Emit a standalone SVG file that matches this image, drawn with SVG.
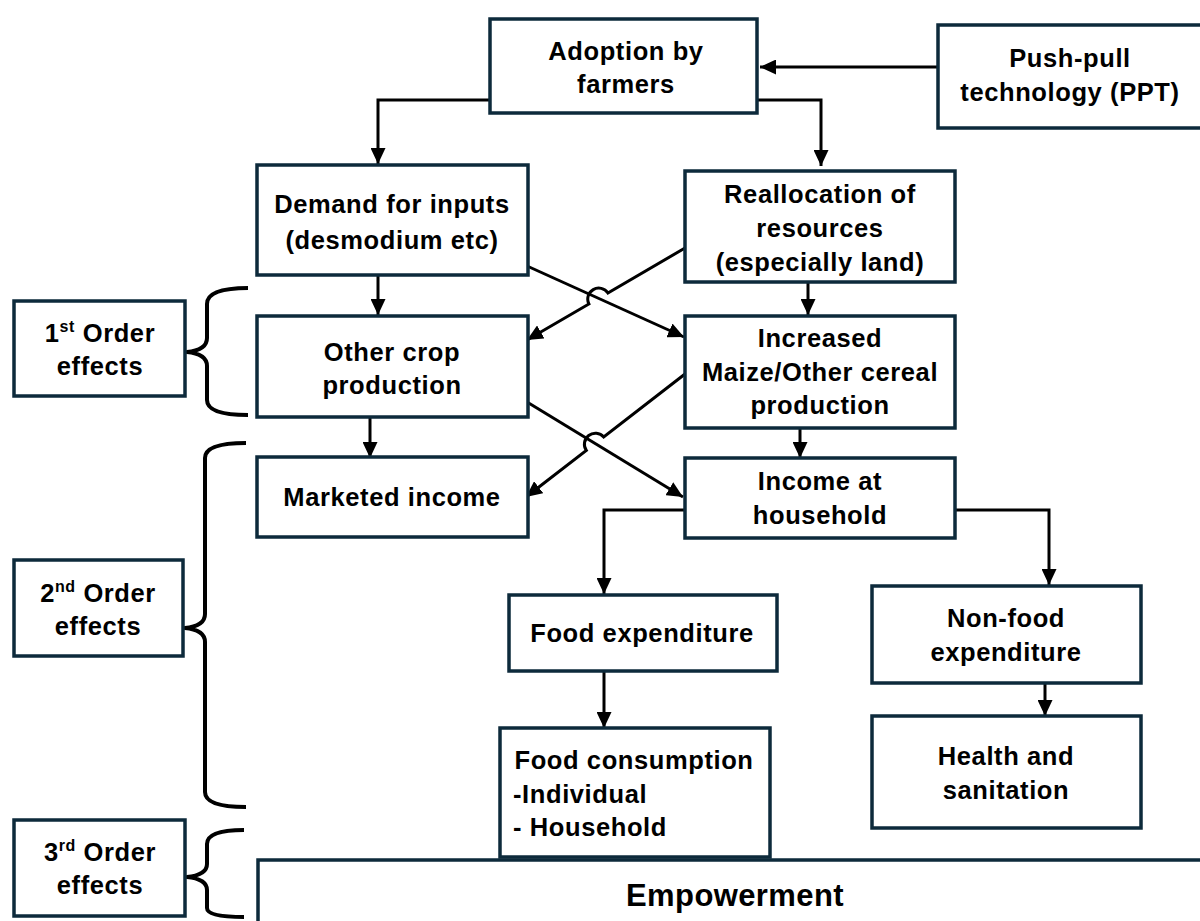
<svg xmlns="http://www.w3.org/2000/svg" width="1200" height="921" viewBox="0 0 1200 921">
<style>
.box{fill:#fff;stroke:#0d2a3b;stroke-width:3.5}
.t{font-family:"Liberation Sans",Arial,sans-serif;font-weight:bold;font-size:25.5px;letter-spacing:0.6px;fill:#000;text-anchor:middle}
.tl{text-anchor:start}
.big{font-size:31px;letter-spacing:0.4px}
.c{fill:none;stroke:#000;stroke-width:3}
.br{fill:none;stroke:#000;stroke-width:4;stroke-linejoin:round}
</style>
<defs>
<marker id="ah" markerUnits="userSpaceOnUse" markerWidth="17" markerHeight="15" refX="16" refY="7.5" orient="auto">
<path d="M0,0 L16,7.5 L0,15 Z" fill="#000"/>
</marker>
</defs>
<rect width="1200" height="921" fill="#fff"/>

<g id="connectors">
<path class="c" d="M938,67 L760,67" marker-end="url(#ah)"/>
<path class="c" d="M490,100 L378,100 L378,164" marker-end="url(#ah)"/>
<path class="c" d="M757,100 L821,100 L821,166" marker-end="url(#ah)"/>
<path class="c" d="M378,275 L378,315" marker-end="url(#ah)"/>
<path class="c" d="M808,282 L808,315" marker-end="url(#ah)"/>
<path class="c" d="M516,261 L684,337" marker-end="url(#ah)"/>
<path class="c" d="M685,248 L607.9,293 A11,11 0 0 0 588.9,304 L527,340" marker-end="url(#ah)"/>
<path class="c" d="M370,417 L370,458" marker-end="url(#ah)"/>
<path class="c" d="M800,428 L800,458" marker-end="url(#ah)"/>
<path class="c" d="M527,402 L683,497" marker-end="url(#ah)"/>
<path class="c" d="M685,374 L603.7,437 A11,11 0 0 0 586.3,450.4 L526,497" marker-end="url(#ah)"/>
<path class="c" d="M685,510 L604,510 L604,594" marker-end="url(#ah)"/>
<path class="c" d="M955,510 L1049,510 L1049,585" marker-end="url(#ah)"/>
<path class="c" d="M604,671 L604,728" marker-end="url(#ah)"/>
<path class="c" d="M1045,683 L1045,716" marker-end="url(#ah)"/>
</g>

<g id="braces">
<path class="br" d="M248,288 Q207,288 207,304 L207,338 Q207,350 187,352 Q207,354 207,366 L207,400 Q207,415 248,415"/>
<path class="br" d="M246,443 Q205,443 205,458 L205,614 Q205,626 185,628 Q205,630 205,642 L205,792 Q205,807 246,807"/>
<path class="br" d="M244,830 Q207,830 207,844 L207,864 Q207,875 187,877 Q207,879 207,890 L207,908 Q207,917 244,917"/>
</g>

<g id="ppt"><rect class="box" x="938" y="25" width="264" height="103"/>
<text class="t" x="1070" y="67">Push-pull</text><text class="t" x="1070" y="101">technology (PPT)</text></g>

<g id="adoption"><rect class="box" x="490" y="19" width="267" height="94"/>
<text class="t" x="626" y="60">Adoption by</text><text class="t" x="626" y="93">farmers</text></g>

<g id="demand"><rect class="box" x="257" y="165" width="271" height="110"/>
<text class="t" x="392" y="213">Demand for inputs</text><text class="t" x="392" y="249">(desmodium etc)</text></g>

<g id="realloc"><rect class="box" x="685" y="171" width="270" height="111"/>
<text class="t" x="820" y="203">Reallocation of</text><text class="t" x="820" y="237">resources</text><text class="t" x="820" y="271">(especially land)</text></g>

<g id="othercrop"><rect class="box" x="257" y="316" width="271" height="101"/>
<text class="t" x="392" y="361">Other crop</text><text class="t" x="392" y="394">production</text></g>

<g id="maize"><rect class="box" x="685" y="316" width="270" height="112"/>
<text class="t" x="820" y="347">Increased</text><text class="t" x="820" y="381">Maize/Other cereal</text><text class="t" x="820" y="414">production</text></g>

<g id="marketed"><rect class="box" x="257" y="457" width="271" height="80"/>
<text class="t" x="392" y="506">Marketed income</text></g>

<g id="income"><rect class="box" x="685" y="458" width="270" height="80"/>
<text class="t" x="820" y="490">Income at</text><text class="t" x="820" y="524">household</text></g>

<g id="foodexp"><rect class="box" x="509" y="595" width="268" height="76"/>
<text class="t" x="642" y="642">Food expenditure</text></g>

<g id="nonfood"><rect class="box" x="872" y="586" width="269" height="97"/>
<text class="t" x="1006" y="627">Non-food</text><text class="t" x="1006" y="661">expenditure</text></g>

<g id="foodcons"><rect class="box" x="500" y="728" width="270" height="129"/>
<text class="t" x="634" y="769">Food consumption</text>
<text class="t tl" x="513" y="803">-Individual</text>
<text class="t tl" x="513" y="836">- Household</text></g>

<g id="health"><rect class="box" x="872" y="716" width="269" height="112"/>
<text class="t" x="1006" y="765">Health and</text><text class="t" x="1006" y="799">sanitation</text></g>

<g id="empowerment"><rect class="box" x="258" y="860" width="960" height="80"/>
<text class="t big" x="735" y="906">Empowerment</text></g>

<g id="order1"><rect class="box" x="14" y="301" width="171" height="95"/>
<text class="t" x="100" y="342">1<tspan font-size="16" dy="-10">st</tspan><tspan dy="10"> Order</tspan></text><text class="t" x="100" y="375">effects</text></g>

<g id="order2"><rect class="box" x="14" y="560" width="169" height="96"/>
<text class="t" x="98" y="602">2<tspan font-size="16" dy="-10">nd</tspan><tspan dy="10"> Order</tspan></text><text class="t" x="98" y="635">effects</text></g>

<g id="order3"><rect class="box" x="14" y="820" width="171" height="96"/>
<text class="t" x="100" y="861">3<tspan font-size="16" dy="-10">rd</tspan><tspan dy="10"> Order</tspan></text><text class="t" x="100" y="894">effects</text></g>
</svg>
